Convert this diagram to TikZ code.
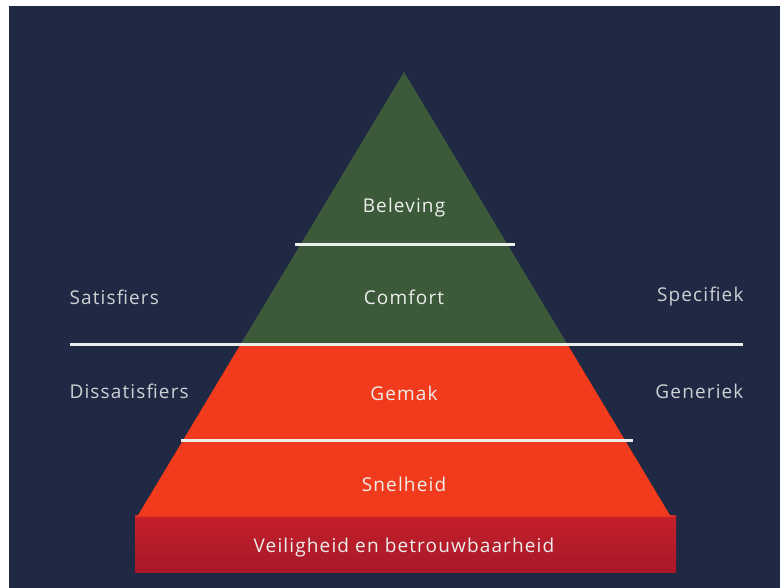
\documentclass[tikz,border=0pt]{standalone}
\usepackage{fontspec}
\newfontfamily\labelfont[LetterSpace=6]{Open Sans}
\definecolor{navy}{HTML}{1F2944}
\definecolor{leafgreen}{HTML}{3C5A3A}
\definecolor{flame}{HTML}{F23B1C}
\definecolor{brick}{HTML}{C4202A}
\definecolor{brickdark}{HTML}{A8182A}
\definecolor{chalk}{HTML}{ECEEEC}
\tikzset{
  layer/.style={font=\labelfont\fontsize{19}{22}\selectfont, text=chalk},
  side/.style={font=\labelfont\fontsize{19}{22}\selectfont, text=chalk!85!navy},
  divider/.style={draw=chalk, line width=3pt},
}
\begin{document}
\begin{tikzpicture}[x=1pt, y=-1pt]
\def \xapex {404}
\def \yapex {72}
\def \slope {0.6}
\def \ybel {245}
\def \ysat {345}
\def \ysnel {440}
\def \ybase {515}
\def \ybot {572}
\def \xboxl {135}
\def \xboxr {676}
\def \xsidel {66}
\def \xsider {747}

\useasboundingbox (0,0) rectangle (780,588);
% backdrop
\fill [white] (0,0) rectangle (780,588);
\fill [navy] (9,6) rectangle (780,588);

% green top
\fill [leafgreen] (\xapex, \yapex) -- ({\xapex - \slope*(\ysat-\yapex)}, \ysat) -- ({\xapex + \slope*(\ysat-\yapex)}, \ysat) -- cycle;
% red middle
\fill [flame] ({\xapex - \slope*(\ysat-\yapex)}, \ysat) -- ({\xapex + \slope*(\ysat-\yapex)}, \ysat) -- ({\xapex + \slope*(\ybase-\yapex)}, \ybase) -- ({\xapex - \slope*(\ybase-\yapex)}, \ybase) -- cycle;
% base block
\shade [top color=brick, bottom color=brickdark] (\xboxl, \ybase) rectangle (\xboxr, \ybot);
\fill [flame!80!brick] ({\xapex - \slope*(\ybase-\yapex)}, \ybase) -- ({\xapex + \slope*(\ybase-\yapex)}, \ybase) -- (\xboxr, \ybase+2) -- (\xboxl, \ybase+2) -- cycle;

% dividers
\coordinate (belL) at ({\xapex - \slope*(\ybel-\yapex) - 5}, \ybel);
\coordinate (belR) at ({\xapex + \slope*(\ybel-\yapex) + 7}, \ybel);
\coordinate (satL) at (70, \ysat);
\coordinate (satR) at (743, \ysat);
\coordinate (snelL) at ({\xapex - \slope*(\ysnel-\yapex) - 2}, \ysnel);
\coordinate (snelR) at ({\xapex + \slope*(\ysnel-\yapex) + 8}, \ysnel);
\draw [divider] (belL) -- (belR);
\draw [divider] (satL) -- (satR);
\draw [divider] (snelL) -- (snelR);

% layers
\node [layer] (beleving) at (\xapex, 208) {Beleving};
\node [layer] (comfort)  at (\xapex, 297) {Comfort};
\node [layer] (gemak)    at (\xapex, 393) {Gemak};
\node [layer] (snelheid) at (\xapex, 484) {Snelheid};
\node [layer] (veilig)   at (\xapex, 548) {Veiligheid en betrouwbaarheid};

% sides
\node [side, anchor=west] (satisfiers)    at (\xsidel, 297) {Satisfiers};
\node [side, anchor=west] (dissatisfiers) at (\xsidel, 391) {Dissatisfiers};
\node [side, anchor=east] (specifiek)     at (\xsider, 297) {Specifiek};
\node [side, anchor=east] (generiek)      at (\xsider, 391) {Generiek};
\end{tikzpicture}
\end{document}
